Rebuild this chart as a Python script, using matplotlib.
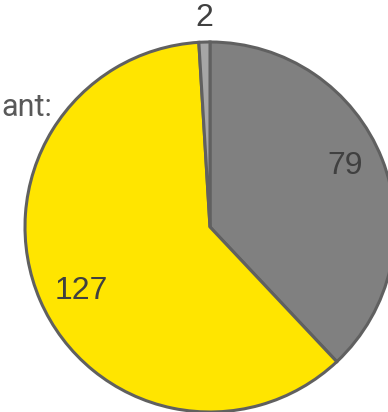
import matplotlib.pyplot as plt

# slice values, clockwise from 12 o'clock
values = [79, 127, 2]
colors = ['#808080', '#FFE500', '#A6A6A6']
labels = ['79', '127', '2']

W, H = 388, 412
fig = plt.figure(figsize=(W / 100, H / 100), dpi=100)
ax = fig.add_axes([0, 0, 1, 1])

cx, cy, r = 210, H - 227, 185
wedges, _ = ax.pie(values, colors=colors, startangle=90, counterclock=False,
                   center=(cx, cy), radius=r,
                   wedgeprops=dict(edgecolor='#606060', linewidth=2.2))

# value labels
font = dict(family='Liberation Sans', color='#404040', fontsize=23)
ax.text(345, H - 166, labels[0], ha='center', va='center', **font)
ax.text(81, H - 291, labels[1], ha='center', va='center', **font)
ax.text(204, H - 18, labels[2], ha='center', va='center', **font)

# tail of the legend caption at the left edge
ax.text(1, H - 107, 'ant:', ha='left', va='center',
        family='Roboto', color='#595959', fontsize=22)

ax.set_xlim(0, W)
ax.set_ylim(0, H)
ax.set_aspect('equal')
ax.axis('off')

fig.savefig('out.png', dpi=100)
